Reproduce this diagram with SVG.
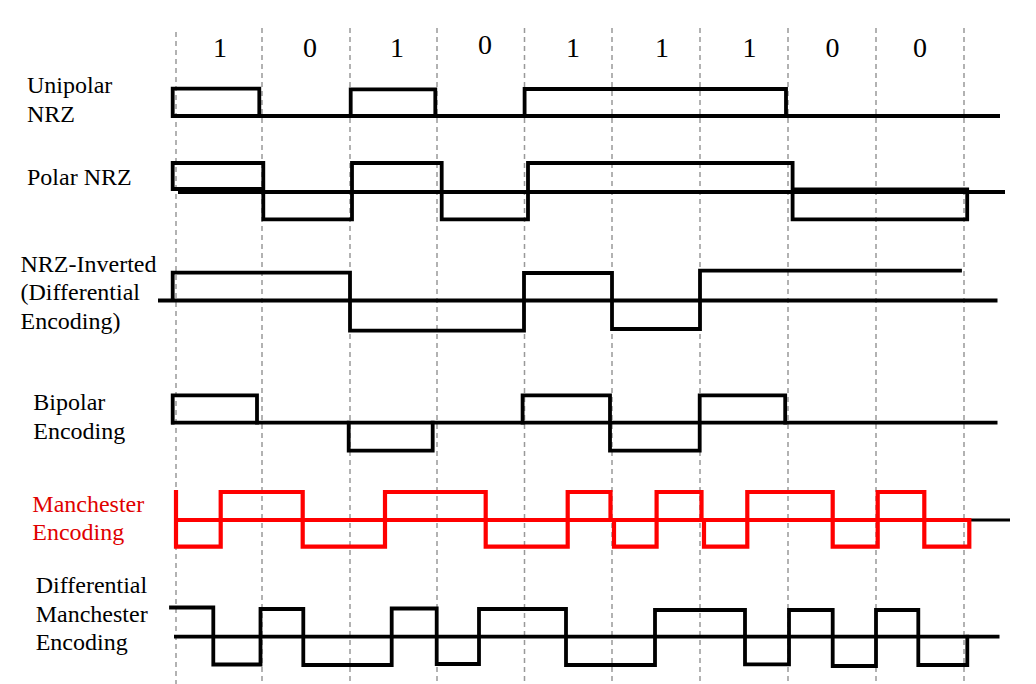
<svg xmlns="http://www.w3.org/2000/svg" width="1036" height="684" viewBox="0 0 1036 684">
<style>
.lbl{font-family:"Liberation Serif","Times New Roman",serif;font-size:24px;fill:#000}
.red{fill:#e00000}
.bit{font-family:"Liberation Serif","Times New Roman",serif;font-size:28px;fill:#000;text-anchor:middle}
.w{fill:none;stroke:#000;stroke-width:3.8;stroke-linejoin:miter;stroke-linecap:square}
.base{fill:none;stroke:#000;stroke-width:3.8}
.wr{fill:none;stroke:#ff0000;stroke-width:4.2;stroke-linejoin:miter;stroke-linecap:square}
.grid{stroke:#999;stroke-width:1.5;stroke-dasharray:5 4;fill:none}
</style>
<rect x="0" y="0" width="1036" height="684" fill="#fff"/>
<g id="grid">
<line class="grid" x1="176" y1="32" x2="176" y2="684"/>
<line class="grid" x1="262" y1="28" x2="262" y2="684"/>
<line class="grid" x1="350" y1="28" x2="350" y2="684"/>
<line class="grid" x1="437" y1="28" x2="437" y2="684"/>
<line class="grid" x1="524.5" y1="28" x2="524.5" y2="684"/>
<line class="grid" x1="612" y1="28" x2="612" y2="684"/>
<line class="grid" x1="700" y1="28" x2="700" y2="684"/>
<line class="grid" x1="788" y1="28" x2="788" y2="684"/>
<line class="grid" x1="876" y1="28" x2="876" y2="684"/>
<line class="grid" x1="964" y1="28" x2="964" y2="684"/>
</g>
<g id="bits">
<text class="bit" x="220" y="57">1</text>
<text class="bit" x="310" y="57">0</text>
<text class="bit" x="397" y="57">1</text>
<text class="bit" x="485" y="54">0</text>
<text class="bit" x="573" y="57">1</text>
<text class="bit" x="662" y="57">1</text>
<text class="bit" x="749.5" y="57">1</text>
<text class="bit" x="832.5" y="57">0</text>
<text class="bit" x="920" y="57">0</text>
</g>
<g id="unipolar-nrz">
<text class="lbl" x="27" y="93">Unipolar</text>
<text class="lbl" x="27" y="121.5">NRZ</text>
<line class="base" x1="171" y1="116" x2="1000" y2="116"/>
<path class="w" d="M172.7,116 V88.7 H259.3 V116 M350.7,116 V89.3 H435.3 V116 M524.6,116 V89 H786 V116"/>
</g>
<g id="polar-nrz">
<text class="lbl" x="27" y="185">Polar NRZ</text>
<line class="base" x1="178" y1="192" x2="1005" y2="192"/>
<path class="w" d="M263.3,189 H172.7 V163 H263.3 V219.3 H352 V163 H441.7 V219.3 H528 V163 H792.6 V219.3 H967.2 V189.5 H792.6"/>
</g>
<g id="nrz-inverted">
<text class="lbl" x="20.5" y="271.5">NRZ-Inverted</text>
<text class="lbl" x="20.5" y="300">(Differential</text>
<text class="lbl" x="20.5" y="329">Encoding)</text>
<line class="base" x1="158" y1="300.5" x2="997.5" y2="300.5"/>
<path class="w" d="M172.7,300 V272.7 H350 V330.7 H524 V273 H612 V329 H700 V270.7 H960"/>
</g>
<g id="bipolar">
<text class="lbl" x="33.3" y="410">Bipolar</text>
<text class="lbl" x="33.3" y="439">Encoding</text>
<line class="base" x1="171" y1="422.7" x2="997.5" y2="422.7"/>
<path class="w" d="M172.7,422.7 V395.3 H257 V422.7 M348.7,422.7 V450.7 H432.7 V422.7 M522.6,422.7 V395.3 H610 V450.7 H699.7 V395.3 H785.2 V422.7"/>
</g>
<g id="manchester">
<text class="lbl red" x="32.3" y="511.5">Manchester</text>
<text class="lbl red" x="32.3" y="540">Encoding</text>
<line x1="968" y1="520" x2="1010" y2="520" stroke="#000" stroke-width="3.2"/>
<line x1="176" y1="520" x2="969.3" y2="520" stroke="#ff0000" stroke-width="4.2"/>
<path class="wr" d="M176,492 V546.7 H220.7 V492 H302.7 V546.7 H385 V492 H485.7 V546.7 H567.7 V492 H610.5 V520 H614 V546.7 H656.6 V492 H701.5 V520 H704 V546.7 H747.3 V492 H832.7 V546.7 H877.7 V492 H924.3 V546.7 H969.3 V520"/>
</g>
<g id="differential-manchester">
<text class="lbl" x="35.7" y="593.3">Differential</text>
<text class="lbl" x="35.7" y="621.7">Manchester</text>
<text class="lbl" x="35.7" y="650">Encoding</text>
<line class="base" x1="174" y1="636.7" x2="999.5" y2="636.7"/>
<path class="w" d="M171,607.5 H213.3 V664.5 H260.5 V609 H303.3 V665 H391.7 V608.5 H436.7 V664 H479 V609 H566 V665 H655 V610 H745 V664.3 H789 V610 H832.7 V666 H876 V610 H918.3 V665 H967.3 V636.7"/>
</g>
</svg>
